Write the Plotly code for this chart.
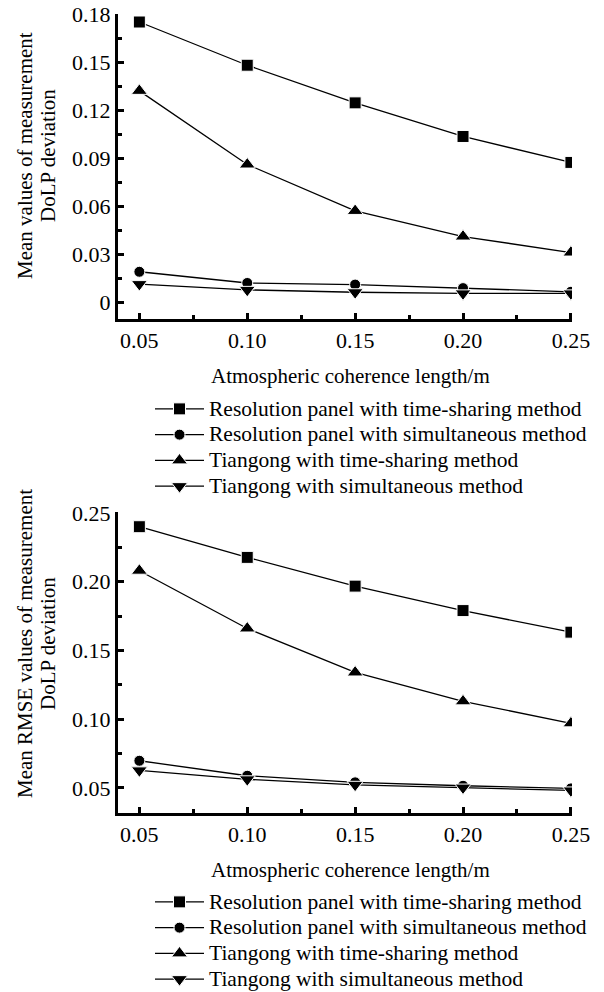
import plotly.graph_objects as go

x_vals = [0.05, 0.10, 0.15, 0.20, 0.25]
x_ticks = [0.05, 0.10, 0.15, 0.20, 0.25]
x_ticktext = ["0.05", "0.10", "0.15", "0.20", "0.25"]

series_names = [
    "Resolution panel with time-sharing method",
    "Resolution panel with simultaneous method",
    "Tiangong with time-sharing method",
    "Tiangong with simultaneous method",
]
symbols = ["square", "circle", "triangle-up", "triangle-down"]
sizes = [12, 11, 14, 14]

# Top panel: mean values
mean_rp_ts = [0.175, 0.148, 0.1245, 0.1035, 0.0873]
mean_rp_sim = [0.019, 0.012, 0.011, 0.0088, 0.0065]
mean_tg_ts = [0.132, 0.086, 0.057, 0.041, 0.031]
mean_tg_sim = [0.0113, 0.0077, 0.0062, 0.0055, 0.0055]
top_yticks = [0, 0.03, 0.06, 0.09, 0.12, 0.15, 0.18]
top_yticktext = ["0", "0.03", "0.06", "0.09", "0.12", "0.15", "0.18"]

# Bottom panel: mean RMSE values
rmse_rp_ts = [0.240, 0.2177, 0.1968, 0.179, 0.1633]
rmse_rp_sim = [0.0698, 0.0589, 0.0541, 0.0516, 0.0497]
rmse_tg_ts = [0.208, 0.166, 0.134, 0.113, 0.097]
rmse_tg_sim = [0.0628, 0.0563, 0.0523, 0.0503, 0.0482]
bot_yticks = [0.05, 0.10, 0.15, 0.20, 0.25]
bot_yticktext = ["0.05", "0.10", "0.15", "0.20", "0.25"]

FONT = "Liberation Serif, Times New Roman, serif"
W, H = 604, 992

fig = go.Figure()

top_data = [mean_rp_ts, mean_rp_sim, mean_tg_ts, mean_tg_sim]
bot_data = [rmse_rp_ts, rmse_rp_sim, rmse_tg_ts, rmse_tg_sim]

def legend_label(s):
    return '<span style="font-size:21.5px">' + s + '</span>'

for i, ys in enumerate(top_data):
    fig.add_trace(go.Scatter(
        x=x_vals, y=ys, mode="lines+markers", name=legend_label(series_names[i]),
        line=dict(color="black", width=1.3),
        marker=dict(symbol=symbols[i], size=sizes[i], color="black",
                    line=dict(color="white", width=1)),
        xaxis="x", yaxis="y", legend="legend",
    ))
for i, ys in enumerate(bot_data):
    fig.add_trace(go.Scatter(
        x=x_vals, y=ys, mode="lines+markers", name=legend_label(series_names[i]),
        line=dict(color="black", width=1.3),
        marker=dict(symbol=symbols[i], size=sizes[i], color="black",
                    line=dict(color="white", width=1)),
        xaxis="x2", yaxis="y2", legend="legend2",
    ))

def px_x(p):
    return p / W

def px_y(p):
    return 1 - p / H

xdom = [px_x(118), px_x(572)]
axis_common = dict(
    showline=True, linecolor="black", linewidth=3,
    ticks="inside", tickcolor="black", tickwidth=3, ticklen=6,
    showgrid=False, zeroline=False, automargin=False,
    tickfont=dict(family=FONT, size=22, color="black"),
)

xaxis_cfg = dict(
    axis_common, range=[0.0401, 0.2505], tickvals=x_ticks, ticktext=x_ticktext,
    minor=dict(ticks="inside", dtick=0.025, tick0=0, ticklen=4, tickwidth=3, tickcolor="black"),
    domain=xdom,
)

legend_common = dict(
    xanchor="left", yanchor="top",
    font=dict(family=FONT, size=17.5, color="black"),
    itemwidth=49, tracegroupgap=0, bgcolor="rgba(0,0,0,0)",
)

fig.update_layout(
    width=W, height=H,
    margin=dict(l=0, r=0, t=0, b=0, autoexpand=False),
    paper_bgcolor="white", plot_bgcolor="white",
    font=dict(family=FONT, size=21, color="black"),
    xaxis=dict(xaxis_cfg, anchor="y"),
    yaxis=dict(axis_common, range=[-0.0105, 0.18], tickvals=top_yticks, ticktext=top_yticktext,
               minor=dict(ticks="inside", dtick=0.015, tick0=0, ticklen=4, tickwidth=3, tickcolor="black"),
               domain=[px_y(319), px_y(14)], anchor="x"),
    xaxis2=dict(xaxis_cfg, anchor="y2"),
    yaxis2=dict(axis_common, range=[0.0318, 0.2507], tickvals=bot_yticks, ticktext=bot_yticktext,
                minor=dict(ticks="inside", dtick=0.025, tick0=0, ticklen=4, tickwidth=3, tickcolor="black"),
                domain=[px_y(813), px_y(512)], anchor="x2"),
    legend=dict(legend_common, x=px_x(150), y=px_y(391)),
    legend2=dict(legend_common, x=px_x(150), y=px_y(884)),
    showlegend=True,
)

annots = [
    dict(text="Atmospheric coherence length/m", x=px_x(350), y=px_y(376)),
    dict(text="Atmospheric coherence length/m", x=px_x(350), y=px_y(870)),
    dict(text="Mean values of measurement", x=px_x(25), y=px_y(156), textangle=-90),
    dict(text="DoLP deviation", x=px_x(48), y=px_y(156), textangle=-90),
    dict(text="Mean RMSE values of measurement", x=px_x(25), y=px_y(644), textangle=-90),
    dict(text="DoLP deviation", x=px_x(48), y=px_y(644), textangle=-90),
]
for a in annots:
    fig.add_annotation(xref="paper", yref="paper", showarrow=False,
                       xanchor="center", yanchor="middle",
                       font=dict(family=FONT, size=21, color="black"), **a)

fig.write_html("out.html")
